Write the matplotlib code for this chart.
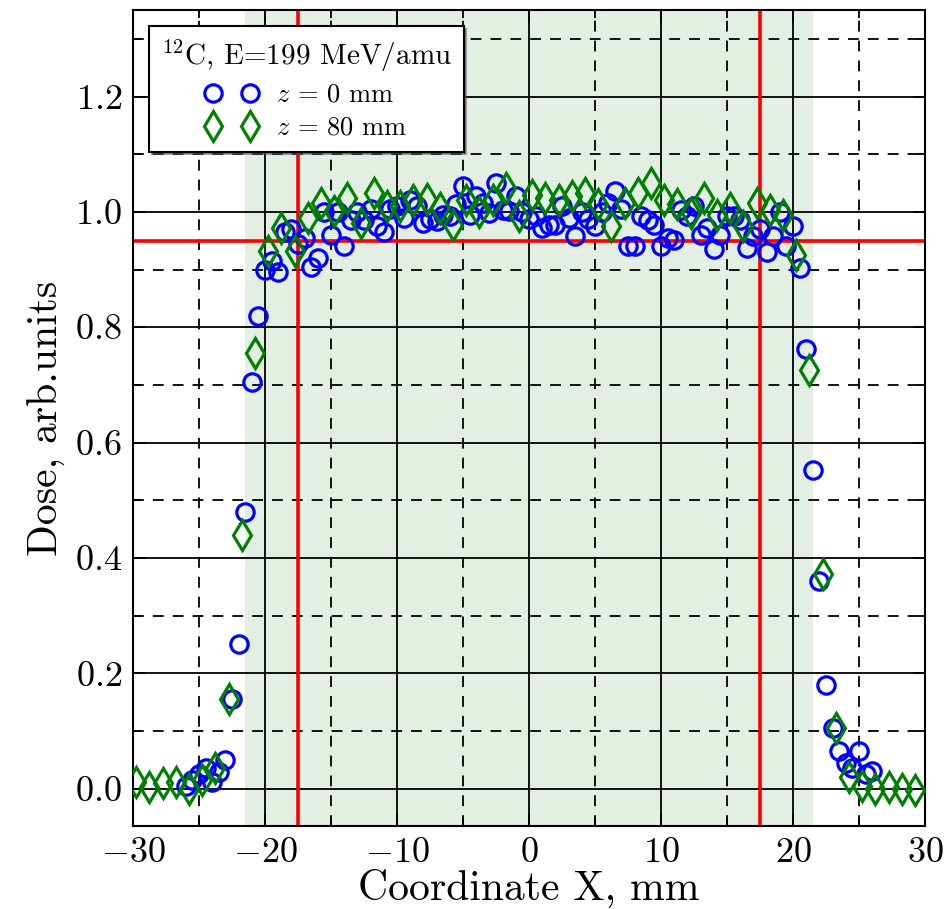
import numpy as np
import matplotlib
matplotlib.use('Agg')
import matplotlib.pyplot as plt
from matplotlib.ticker import MultipleLocator, FormatStrFormatter

plt.rcParams['font.family'] = 'serif'
plt.rcParams['font.serif'] = ['cmr10']
plt.rcParams['mathtext.fontset'] = 'cm'
plt.rcParams['axes.formatter.use_mathtext'] = True

# z = 0 mm, 0.5 mm step
x_z0 = np.arange(-26.0, 26.01, 0.5)
dose_z0 = [0.005, 0.015, 0.025, 0.035, 0.012, 0.028, 0.05, 0.155, 0.25, 0.48,
           0.705, 0.82, 0.90, 0.915, 0.895, 0.965, 0.97, 0.945, 0.955, 0.905,
           0.92, 1.0, 0.96, 1.0, 0.94, 0.985, 1.0, 0.985, 1.005, 0.975,
           0.965, 1.005, 1.01, 0.99, 1.02, 1.01, 0.98, 0.987, 0.984, 0.995,
           0.993, 1.013, 1.044, 0.995, 1.027, 1.016, 0.998, 1.05, 1.004, 1.001,
           1.027, 1.0, 0.987, 0.993, 0.972, 0.978, 0.978, 1.01, 0.99, 0.958,
           1.0, 0.987, 0.975, 1.0, 1.016, 1.036, 1.005, 0.94, 0.94, 0.993,
           0.985, 0.978, 0.94, 0.955, 0.952, 1.004, 0.993, 1.01, 0.96, 0.972,
           0.935, 0.96, 0.993, 0.993, 0.985, 0.938, 0.958, 0.97, 0.93, 0.958,
           1.0, 0.94, 0.975, 0.903, 0.763, 0.553, 0.36, 0.18, 0.105, 0.065,
           0.045, 0.035, 0.065, 0.025, 0.03]

# z = 80 mm, 1 mm step
x_z80 = np.arange(-29.75, 29.3, 1.0)
dose_z80 = [0.012, 0.003, 0.01, 0.012, 0.0, 0.015, 0.035, 0.155, 0.44, 0.755,
            0.932, 0.972, 0.932, 0.99, 1.016, 1.002, 1.024, 0.98, 1.033, 1.01,
            1.01, 1.021, 1.022, 1.007, 0.978, 1.02, 1.0, 1.02, 1.041, 0.993,
            1.03, 1.024, 1.02, 1.027, 1.033, 1.013, 0.975, 1.016, 1.033, 1.05,
            1.021, 1.013, 0.998, 1.024, 0.995, 1.007, 0.975, 1.016, 1.004, 0.995,
            0.926, 0.725, 0.372, 0.105, 0.02, 0.005, 0.0, 0.002, 0.0, -0.002]

fig = plt.figure(figsize=(9.52, 9.09), dpi=100)
ax = fig.add_axes([0.1397, 0.0913, 0.8319, 0.8977])

ax.axvspan(-21.5, 21.5, facecolor='#e4efe4', edgecolor='none', zorder=0)

ax.grid(which='major', color='black', linestyle='-', linewidth=1.3)
ax.grid(which='minor', color='black', linestyle=(0, (6, 5)), linewidth=1.3)

ax.axvline(-17.5, color='red', lw=2.6, zorder=2)
ax.axvline(17.5, color='red', lw=2.6, zorder=2)
ax.axhline(0.95, color='red', lw=2.6, zorder=2)

ax.plot(x_z0, dose_z0, 'o', mfc='none', mec='blue', mew=2.3, ms=12.5,
        label=r'$z$ = 0 mm', zorder=3)
ax.plot(x_z80, dose_z80, 'd', mfc='none', mec='green', mew=2.3, ms=15,
        label=r'$z$ = 80 mm', zorder=3)

ax.set_xlim(-30, 30)
ax.set_ylim(-0.065, 1.35)
ax.xaxis.set_major_locator(MultipleLocator(10))
ax.xaxis.set_minor_locator(MultipleLocator(5))
ax.yaxis.set_major_locator(MultipleLocator(0.2))
ax.yaxis.set_minor_locator(MultipleLocator(0.1))
ax.xaxis.set_major_formatter(FormatStrFormatter('$%d$'))
ax.yaxis.set_major_formatter(FormatStrFormatter('$%.1f$'))
ax.tick_params(which='both', direction='in', top=True, right=True, width=1.3)
ax.tick_params(which='major', length=9, labelsize=26, pad=8)
ax.tick_params(which='minor', length=6)
for s in ax.spines.values():
    s.set_linewidth(1.5)

ax.set_xlabel('Coordinate X, mm', fontsize=30, labelpad=0)
ax.set_ylabel('Dose, arb.units', fontsize=30, labelpad=6)

leg = ax.legend(loc='upper left', numpoints=2, fontsize=19, shadow=True,
                fancybox=False, framealpha=1, edgecolor='black',
                title=r'$^{12}$C, E=199 MeV/amu', title_fontsize=21,
                borderaxespad=0.6, handletextpad=0.7, borderpad=0.45,
                labelspacing=0.35)
leg.get_frame().set_linewidth(1.5)

fig.savefig('out.png', dpi=100)
